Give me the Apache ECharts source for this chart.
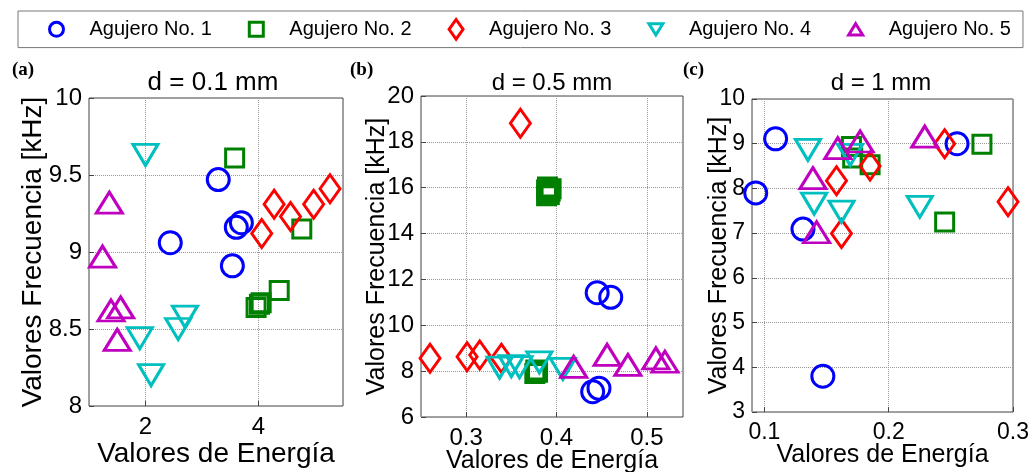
<!DOCTYPE html>
<html>
<head>
<meta charset="utf-8">
<script src="https://cdn.jsdelivr.net/npm/echarts@6/dist/echarts.min.js"></script>
<style>
  html, body { margin: 0; background: #fff; }
  #chart { width: 1035px; height: 472px; }
</style>
</head>
<body>
<div id="chart"></div>
<script>
const holeNames = ['Agujero No. 1', 'Agujero No. 2', 'Agujero No. 3', 'Agujero No. 4', 'Agujero No. 5'];
const panelTitles = ['d = 0.1 mm', 'd = 0.5 mm', 'd = 1 mm'];
const panelLetters = ['(a)', '(b)', '(c)'];

// (a) d = 0.1 mm   [energia, frecuencia kHz]
const a1 = [[2.44, 9.06], [3.29, 9.47], [3.61, 9.16], [3.70, 9.19], [3.54, 8.91]];
const a2 = [[3.58, 9.61], [4.77, 9.15], [4.37, 8.75], [3.96, 8.64], [4.02, 8.66], [4.05, 8.67]];
const a3 = [[4.06, 9.12], [4.28, 9.31], [4.57, 9.23], [4.98, 9.31], [5.27, 9.41]];
const a4 = [[2.00, 9.63], [1.90, 8.44], [2.10, 8.20], [2.58, 8.50], [2.70, 8.58]];
const a5 = [[1.36, 9.32], [1.24, 8.97], [1.39, 8.62], [1.56, 8.64], [1.50, 8.43]];

// (b) d = 0.5 mm
const b1 = [[0.445, 11.42], [0.460, 11.22], [0.440, 7.10], [0.447, 7.25]];
const b2 = [[0.389, 15.65], [0.391, 15.75], [0.393, 15.85], [0.394, 15.95], [0.390, 16.03], [0.392, 15.70], [0.389, 15.90],
            [0.376, 7.90], [0.378, 8.00], [0.377, 8.05], [0.379, 7.95]];
const b3 = [[0.360, 18.81], [0.260, 8.56], [0.301, 8.63], [0.315, 8.70], [0.339, 8.56]];
const b4 = [[0.337, 8.15], [0.350, 8.22], [0.359, 8.17], [0.381, 8.38], [0.407, 8.10]];
const b5 = [[0.419, 8.19], [0.456, 8.71], [0.479, 8.27], [0.510, 8.56], [0.520, 8.41]];

// (c) d = 1 mm
const c1 = [[0.109, 9.11], [0.093, 7.90], [0.131, 7.09], [0.147, 3.80], [0.255, 9.00]];
const c2 = [[0.170, 8.94], [0.171, 8.68], [0.185, 8.53], [0.275, 8.99], [0.245, 7.25]];
const c3 = [[0.158, 8.17], [0.162, 6.99], [0.185, 8.50], [0.245, 9.00], [0.296, 7.70]];
const c4 = [[0.135, 8.86], [0.140, 7.66], [0.162, 7.48], [0.225, 7.59], [0.169, 8.75]];
const c5 = [[0.139, 8.23], [0.142, 7.02], [0.159, 8.90], [0.177, 9.05], [0.229, 9.16]];

const panelData = [[a1, a2, a3, a4, a5], [b1, b2, b3, b4, b5], [c1, c2, c3, c4, c5]];

const holeColors = ['#0000ff', '#008000', '#ff0000', '#00bfbf', '#bf00bf'];
const holeSymbols = ['circle', 'path://M0,0L10,0L10,10L0,10Z', 'path://M5,0L10,7L5,14L0,7Z', 'path://M0,0L10,0L5,8Z', 'path://M5,0L10,8L0,8Z'];
const holeSizes = [22, 18, [20, 28], [25, 21], [26, 21]];

const font = '"Liberation Sans", Arial, sans-serif';

const grids = [
  { left: 89, right: 692, top: 98, bottom: 66 },
  { left: 421, right: 352, top: 96, bottom: 55 },
  { left: 752, right: 22, top: 99, bottom: 60 }
];
// x: min, max, splitNumber, showMaxLabel ; y: min, max, interval
const xRanges = [[1, 5.5, 2, false], [0.25, 0.54, 3, false], [0.09, 0.3, 2, true]];
const yRanges = [[8, 10, 0.5], [6, 20, 2], [3, 10, 1]];
const tickFont = [24, 24, 23];
const nameFont = [28, 25, 25];
const yNameGap = [42, 31, 20];
const xNameGap = [34, 32, 31];
const titleFont = [26, 24, 24];
const titleX = [213, 552, 881];

const grid = grids.map(g => Object.assign({ show: true, borderColor: '#444', borderWidth: 1, outerBoundsMode: 'none' }, g));

const xAxis = xRanges.map((r, i) => ({
  type: 'value', gridIndex: i, min: r[0], max: r[1], splitNumber: r[2],
  name: 'Valores de Energía', nameLocation: 'middle', nameGap: xNameGap[i], nameMoveOverlap: false,
  nameTextStyle: { fontSize: nameFont[i], fontFamily: font, color: '#000' },
  axisLine: { show: false },
  axisTick: { show: true, inside: true, length: 5, lineStyle: { color: '#444' } },
  axisLabel: { showMinLabel: false, showMaxLabel: r[3], fontSize: tickFont[i], fontFamily: font, color: '#000', margin: 9 },
  splitLine: { show: true, lineStyle: { type: 'dotted', color: '#999' } }
}));

const yAxis = yRanges.map((r, i) => ({
  type: 'value', gridIndex: i, min: r[0], max: r[1], interval: r[2],
  name: 'Valores Frecuencia [kHz]', nameLocation: 'middle', nameGap: yNameGap[i], nameMoveOverlap: false,
  nameTextStyle: { fontSize: nameFont[i], fontFamily: font, color: '#000' },
  axisLine: { show: false },
  axisTick: { show: true, inside: true, length: 5, lineStyle: { color: '#444' } },
  axisLabel: { fontSize: tickFont[i], fontFamily: font, color: '#000', margin: 7 },
  splitLine: { show: true, lineStyle: { type: 'dotted', color: '#999' } }
}));

const series = [];
panelData.forEach((holes, p) => {
  holes.forEach((pts, h) => {
    series.push({
      type: 'scatter', name: holeNames[h], xAxisIndex: p, yAxisIndex: p,
      data: pts, symbol: holeSymbols[h], symbolSize: holeSizes[h],
      itemStyle: { color: 'transparent', borderColor: holeColors[h], borderWidth: 3, opacity: 1 },
      emphasis: { disabled: true },
      z: 2 + h
    });
  });
});

const graphic = [];
panelTitles.forEach((t, i) => {
  graphic.push({ type: 'text', x: titleX[i], y: 83,
    style: { text: t, fontSize: titleFont[i], fontFamily: font, fill: '#000', align: 'center', verticalAlign: 'middle' } });
});
[12, 350, 683].forEach((x, i) => {
  graphic.push({ type: 'text', x: x, y: 70,
    style: { text: panelLetters[i], fontSize: 19, fontWeight: 'bold', fontFamily: '"Liberation Serif", "Times New Roman", serif',
      fill: '#000', align: 'left', verticalAlign: 'middle' } });
});

const chart = echarts.init(document.getElementById('chart'));
chart.setOption({
  animation: false,
  backgroundColor: '#fff',
  legend: {
    data: holeNames, left: 18, top: 11, width: 1012,
    padding: [7, 12, 7, 30], itemGap: 36, itemWidth: 14, itemHeight: 20,
    borderColor: '#777', borderWidth: 1,
    itemStyle: { borderWidth: 3 },
    textStyle: { fontSize: 20, fontFamily: font, color: '#000', padding: [0, 0, 0, 21] }
  },
  grid, xAxis, yAxis, series, graphic
});
</script>
</body>
</html>
